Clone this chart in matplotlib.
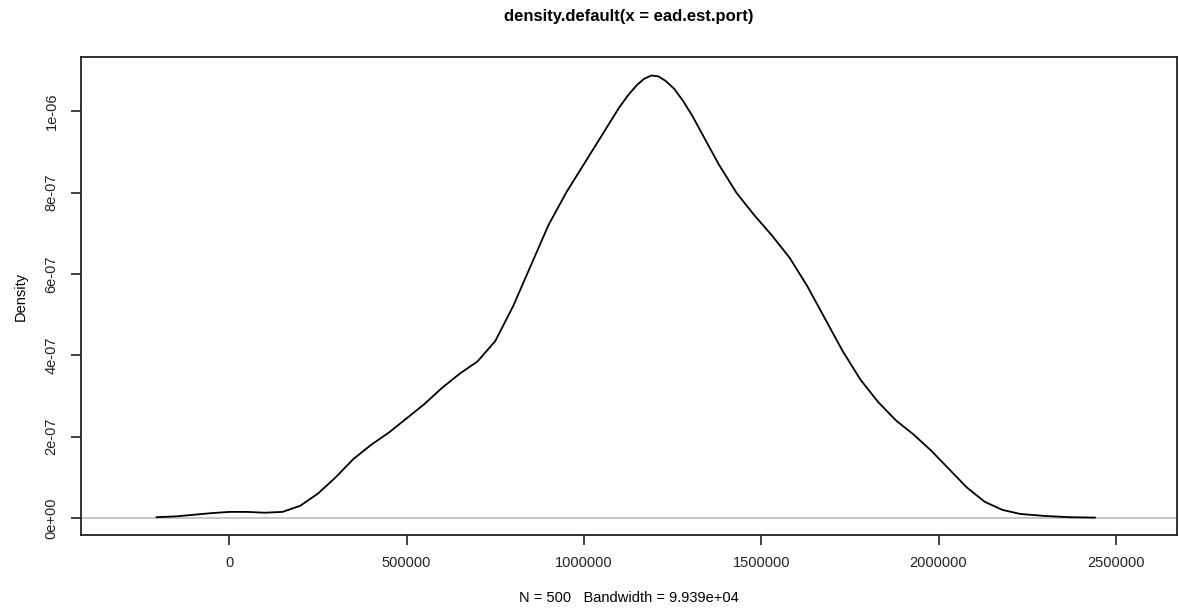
import numpy as np
import matplotlib
matplotlib.use("Agg")
import matplotlib.pyplot as plt

plt.rcParams['font.family'] = ['Liberation Sans', 'DejaVu Sans']

# density curve
dens_x = [-205000, -150000, -100000, -50000, 0, 50000, 100000, 150000, 200000,
          250000, 300000, 350000, 400000, 450000, 500000, 550000, 600000,
          650000, 700000, 750000, 800000, 850000, 900000, 950000, 1000000,
          1050000, 1100000, 1125000, 1150000, 1170000, 1190000, 1210000,
          1230000, 1255000, 1280000, 1305000, 1330000, 1355000,
          1380000, 1430000, 1480000, 1530000, 1580000, 1630000, 1680000,
          1730000, 1780000, 1830000, 1880000, 1930000, 1980000, 2030000,
          2080000, 2130000, 2180000, 2230000, 2300000, 2370000, 2441000]
dens_y = [0.002, 0.004, 0.008, 0.012, 0.015, 0.015, 0.013, 0.015, 0.03,
          0.06, 0.10, 0.145, 0.18, 0.21, 0.245, 0.28, 0.32,
          0.355, 0.385, 0.435, 0.52, 0.62, 0.72, 0.80, 0.87,
          0.94, 1.01, 1.04, 1.065, 1.08, 1.088, 1.086,
          1.075, 1.055, 1.025, 0.99, 0.95, 0.91,
          0.87, 0.80, 0.745, 0.695, 0.64, 0.57, 0.49,
          0.41, 0.34, 0.285, 0.24, 0.205, 0.165, 0.12,
          0.075, 0.04, 0.02, 0.01, 0.005, 0.002, 0.001]
dens_y = [v * 1e-6 for v in dens_y]

xticks = [0, 500000, 1000000, 1500000, 2000000, 2500000]
xtick_labels = ['0', '500000', '1000000', '1500000', '2000000', '2500000']
yticks = [0, 2e-7, 4e-7, 6e-7, 8e-7, 1e-6]
ytick_labels = ['0e+00', '2e-07', '4e-07', '6e-07', '8e-07', '1e-06']

title = 'density.default(x = ead.est.port)'
subtitle = 'N = 500   Bandwidth = 9.939e+04'

W, H = 1179, 610
fig = plt.figure(figsize=(W / 100, H / 100), dpi=100)
ax = fig.add_axes([80.7 / W, 1 - 535 / H, (1176.7 - 80.7) / W, (535 - 57.3) / H])

ax.axhline(0, color='#bebebe', lw=1.2, zorder=1)
ax.plot(dens_x, dens_y, color='black', lw=1.3, zorder=2)

ax.set_xlim(-419000, 2671700)
ax.set_ylim(-0.0418e-6, 1.1328e-6)

ax.set_xticks(xticks)
ax.set_xticklabels(xtick_labels)
ax.set_yticks(yticks)
ax.set_yticklabels(ytick_labels, rotation=90, va='center')
ax.tick_params(direction='out', length=7, width=1.2, labelsize=10.5,
               colors='#222222', pad=8)
ax.tick_params(axis='y', pad=9)

for sp in ax.spines.values():
    sp.set_linewidth(1.3)
    sp.set_color('#222222')

ax.set_ylabel('Density', fontsize=10.5, labelpad=12)
fig.text((80.7 + 1176.7) / 2 / W, 1 - 598 / H, subtitle, ha='center',
         va='center', fontsize=10.5)
fig.text((80.7 + 1176.7) / 2 / W, 1 - 16 / H, title, ha='center',
         va='center', fontsize=12, fontweight='bold')

fig.savefig('out.png', dpi=100)
